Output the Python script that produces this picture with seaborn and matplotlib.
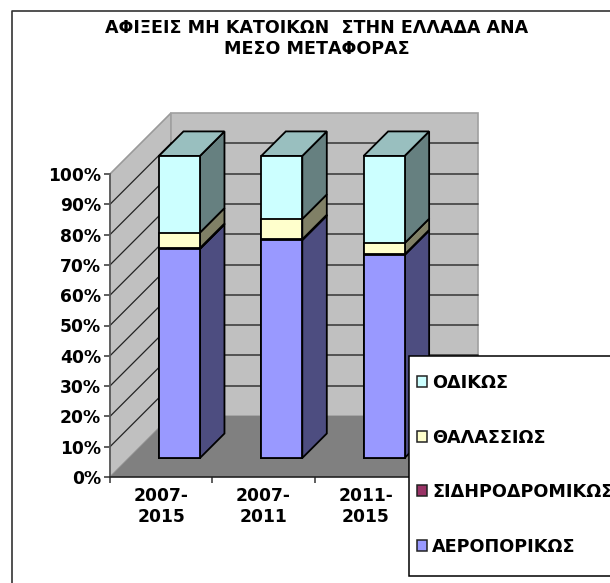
import matplotlib
matplotlib.use("Agg")
import pandas as pd
import seaborn as sns
import matplotlib.pyplot as plt
from matplotlib.patches import Polygon, Rectangle
from matplotlib.transforms import Affine2D

# Data (percent shares)
periods = ["2007-\n2015", "2007-\n2011", "2011-\n2015"]
air = [69.0, 71.9, 67.0]
rail = [0.3, 0.3, 0.2]
sea = [5.1, 6.7, 3.7]
road = [25.3, 20.8, 28.8]
series_names = ["ΑΕΡΟΠΟΡΙΚΩΣ", "ΣΙΔΗΡΟΔΡΟΜΙΚΩΣ", "ΘΑΛΑΣΣΙΩΣ", "ΟΔΙΚΩΣ"]
series_values = [air, rail, sea, road]
front_colors = ["#9999FF", "#993366", "#FFFFCC", "#CCFFFF"]
side_colors = ["#4D4D80", "#4D1A33", "#808066", "#668080"]
top_color = "#99BFBF"
yticks = list(range(0, 101, 10))
title = "ΑΦΙΞΕΙΣ ΜΗ ΚΑΤΟΙΚΩΝ  ΣΤΗΝ ΕΛΛΑΔΑ ΑΝΑ\nΜΕΣΟ ΜΕΤΑΦΟΡΑΣ"

W, H = 610, 583
sns.set_theme(style="white")
plt.rcParams["font.family"] = ["DejaVu Sans"]
plt.rcParams["font.weight"] = "bold"
plt.rcParams["text.color"] = "black"

fig = plt.figure(figsize=(W / 100, H / 100), dpi=100)
# front plane of the fake 3D box
ax = fig.add_axes([110 / W, 1 - 477 / H, 307 / W, 303 / H])
ax.set_xlim(-0.5, 2.5)
ax.set_ylim(0, 100)
ax.patch.set_alpha(0)

# pixel sizes of the depth
WALL = 61
GAP_X = 18.3
GAP_Y = 19
BAR_D = 24.5
ppx = 307 / 3
ppy = 303 / 100
wall_x = WALL / ppx
wall_y = WALL / ppy


def add_poly(pts, **kw):
    ax.add_patch(Polygon(pts, closed=True, clip_on=False, **kw))


# walls and floor
add_poly([(-0.5, 0), (-0.5 + wall_x, wall_y), (-0.5 + wall_x, 100 + wall_y), (-0.5, 100)],
         fc="#C0C0C0", ec="#9A9A9A", lw=1.2, zorder=1)
add_poly([(-0.5 + wall_x, wall_y), (2.5 + wall_x, wall_y), (2.5 + wall_x, 100 + wall_y),
          (-0.5 + wall_x, 100 + wall_y)], fc="#C0C0C0", ec="#A0A0A0", lw=1.2, zorder=1)
add_poly([(-0.5, 0), (2.5, 0), (2.5 + wall_x, wall_y), (-0.5 + wall_x, wall_y)],
         fc="#808080", ec="none", zorder=1.1)

# gridlines on both walls
for t in yticks[1:-1]:
    ax.plot([-0.5, -0.5 + wall_x], [t, t + wall_y], color="#222222", lw=0.9,
            clip_on=False, zorder=1.2)
    ax.plot([-0.5 + wall_x, 2.5 + wall_x], [t + wall_y, t + wall_y], color="#404040", lw=1.2,
            clip_on=False, zorder=1.2)

# stacked bars, the tallest cumulative first so the lower ones sit on top
rows = []
for name, vals in zip(series_names, series_values):
    for p, v in zip(periods, vals):
        rows.append({"period": p, "series": name, "value": v})
df = pd.DataFrame(rows)
df["top"] = df.groupby("period", sort=False)["value"].cumsum()

bar_w = 41 / ppx
shift = Affine2D().translate(GAP_X, GAP_Y)
for i in range(len(series_names) - 1, -1, -1):
    name = series_names[i]
    sub = df[df["series"] == name]
    before = len(ax.patches)
    sns.barplot(data=sub, x="period", y="top", color=front_colors[i], width=bar_w,
                saturation=1, ax=ax, order=periods, zorder=3 + (3 - i) * 0.01,
                edgecolor="black", linewidth=1.3)
    for bar in ax.patches[before:]:
        bar.set_transform(ax.transData + shift)
        bar.set_clip_on(False)

# side and top faces, taken from the same cumulative values
dx = BAR_D / ppx
dy = BAR_D / ppy
for j, p in enumerate(periods):
    sub = df[df["period"] == p]
    right = j + bar_w / 2
    left = j - bar_w / 2
    low = 0
    for i, top in enumerate(sub["top"]):
        ax.add_patch(Polygon([(right, low), (right + dx, low + dy), (right + dx, top + dy), (right, top)],
                             closed=True, fc=side_colors[i], ec="black", lw=1.3, clip_on=False,
                             zorder=2.9, transform=ax.transData + shift))
        low = top
    ax.add_patch(Polygon([(left, low), (right, low), (right + dx, low + dy), (left + dx, low + dy)],
                         closed=True, fc=top_color, ec="black", lw=1.3, clip_on=False,
                         zorder=2.9, transform=ax.transData + shift))

# axes
ax.set_xlabel("")
ax.set_ylabel("")
ax.set_yticks(yticks)
ax.set_yticklabels([f"{t}%" for t in yticks], fontsize=12.3, fontweight="bold", color="black")
ax.set_xticks([-0.5, 0.5, 1.5, 2.5], labels=[])
ax.set_xticks([0, 1, 2], labels=periods, minor=True, fontsize=12.3, fontweight="bold", color="black")
ax.tick_params(axis="x", which="major", length=4.5, width=1.1, color="#333333", bottom=True)
ax.tick_params(axis="x", which="minor", length=0, pad=7)
ax.tick_params(axis="y", length=4, width=1.1, color="#333333", left=True, pad=2.5)
for s in ["top", "right"]:
    ax.spines[s].set_visible(False)
ax.spines["left"].set_color("#555555")
ax.spines["left"].set_linewidth(1.2)
ax.spines["bottom"].set_color("#222222")
ax.spines["bottom"].set_linewidth(1.2)
ax.spines["left"].set_zorder(2)
ax.spines["bottom"].set_zorder(2)

# outer chart border (runs off the right and bottom of the image)
fig.add_artist(plt.Line2D([12 / W, 12 / W, 1], [0, 1 - 11 / H, 1 - 11 / H], color="#333333", lw=1.2))

fig.text(317 / W, 1 - 19 / H, title, ha="center", va="top", fontsize=12.6,
         fontweight="bold", color="black", linespacing=1.2)

# legend box hangs over the plot and runs past the right edge
fig.add_artist(Rectangle((408.5 / W, 1 - 575.5 / H), 260 / W, 219.5 / H, fc="white", ec="black", lw=1.1,
                         transform=fig.transFigure, zorder=10))
handles = [Rectangle((0, 0), 1, 1, fc=c, ec="#222222", lw=1.1) for c in front_colors[::-1]]
leg = fig.legend(handles, series_names[::-1], loc="upper left",
                 bbox_to_anchor=(417 / W, 1 - 374 / H), frameon=False, fontsize=12.7,
                 handlelength=0.57, handleheight=0.57, handletextpad=0.3,
                 labelspacing=2.07, borderpad=0, borderaxespad=0, labelcolor="black")
leg.set_zorder(11)
for txt in leg.get_texts():
    txt.set_fontweight("bold")

fig.savefig("out.png", dpi=100)
